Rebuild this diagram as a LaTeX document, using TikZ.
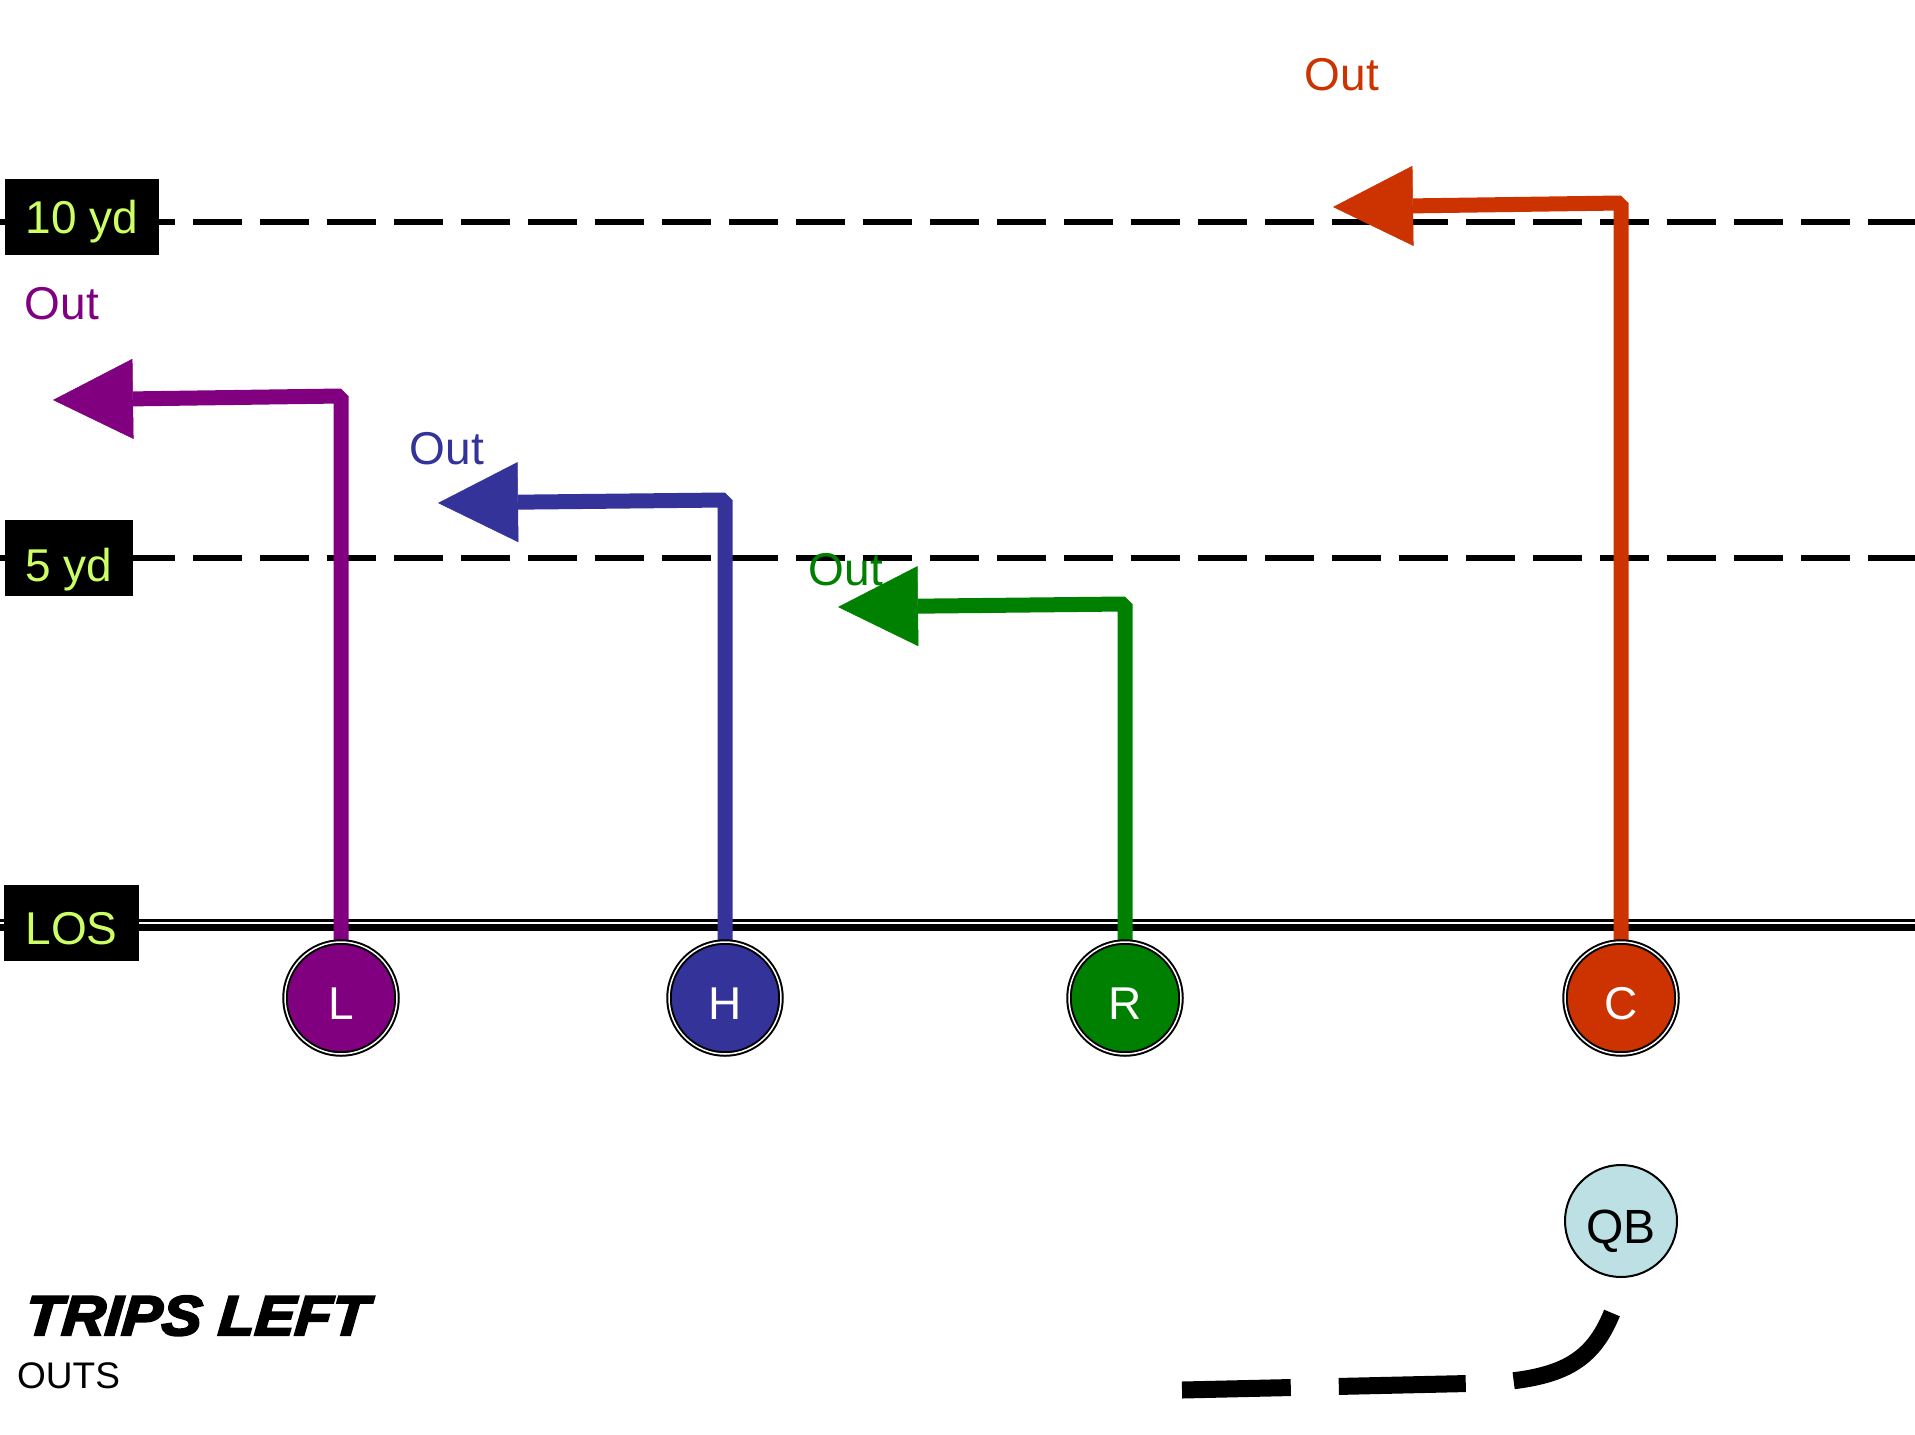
\documentclass[tikz,border=0pt]{standalone}
\usepackage{fontspec}
\setmainfont{Liberation Sans}
\newfontfamily\heavyfont[FakeBold=4,FakeStretch=1.07,FakeSlant=0.08]{Liberation Sans Bold Italic}
\usetikzlibrary{arrows.meta}
\pgfdeclarelayer{paper}
\pgfdeclarelayer{field}
\pgfdeclarelayer{routes}
\pgfsetlayers{paper,field,routes,main}
\definecolor{rtpurple}{HTML}{800080}
\definecolor{rtblue}{HTML}{333399}
\definecolor{rtgreen}{HTML}{008000}
\definecolor{rtorange}{HTML}{CC3300}
\definecolor{ydtext}{HTML}{CCFF66}
\definecolor{qbfill}{HTML}{BCE0E4}
\tikzset{
  yardline/.style={line width=6pt, dash pattern=on 49pt off 18pt, dash phase=8pt},
  yardbox/.style={fill=black, text=ydtext, minimum height=76pt, inner xsep=21pt, inner ysep=0pt,
    text height=33pt, text depth=0pt, font=\fontsize{46}{46}\selectfont},
  player/.style={circle, draw=black, line width=2pt, double=white, double distance=1.5pt,
    fill=#1, minimum size=112pt, inner sep=0pt, text=white, text height=43pt, text depth=0pt,
    font=\fontsize{46}{46}\selectfont},
  route/.style={draw=#1, line width=15pt, line join=bevel,
    -{Triangle[length=80pt,width=80pt,line width=0.5pt]}},
  routename/.style={text=#1, inner sep=0pt, font=\fontsize{46}{46}\selectfont},
}
\begin{document}
\begin{tikzpicture}[x=1pt,y=-1pt]
    \useasboundingbox (0,0) rectangle (1915,1435);
    \begin{pgfonlayer}{paper}
    \fill[white] (0,0) rectangle (1915,1435);
    \end{pgfonlayer}

    \node[yardbox] (tenyd) at (82,217) {10 yd};
    \node[yardbox, text height=47pt] (fiveyd) at (69,557.5) {5 yd};
    \node[yardbox, text height=43pt] (los) at (71.5,923) {LOS};

    \node[player=rtpurple] (L) at (341,998) {L};
    \node[player=rtblue] (H) at (725,998) {H};
    \node[player=rtgreen] (R) at (1125,998) {R};
    \node[player=rtorange] (C) at (1621,998) {C};

    \coordinate (Lcorner) at (341,396);
    \coordinate (Ltip) at (53,400);
    \coordinate (Hcorner) at (725,500);
    \coordinate (Htip) at (438,503);
    \coordinate (Rcorner) at (1125,604);
    \coordinate (Rtip) at (838,607);
    \coordinate (Ccorner) at (1621,203);
    \coordinate (Ctip) at (1333,207);

    \begin{pgfonlayer}{field}
    \draw[yardline] (0,221.5) -- (1915,221.5);
    \draw[yardline] (0,557.5) -- (1915,557.5);
    \draw[line width=2.5pt] (0,920.5) -- (1915,920.5);
    \draw[line width=7pt] (0,927.5) -- (1915,927.5);
    \end{pgfonlayer}

    \begin{pgfonlayer}{routes}
    \draw[route=rtpurple] (L.north) -- (Lcorner) -- (Ltip);
    \draw[route=rtblue] (H.north) -- (Hcorner) -- (Htip);
    \draw[route=rtgreen] (R.north) -- (Rcorner) -- (Rtip);
    \draw[route=rtorange] (C.north) -- (Ccorner) -- (Ctip);
    \end{pgfonlayer}

    \node[routename=rtpurple] (outL) at (62,304) {Out};
    \node[routename=rtblue] (outH) at (447,449) {Out};
    \node[routename=rtgreen] (outR) at (846,570) {Out};
    \node[routename=rtorange] (outC) at (1342,75) {Out};

    \node[circle, draw=black, line width=2pt, fill=qbfill, minimum size=112pt, inner sep=0pt,
      text height=44pt, text depth=0pt, font=\fontsize{48}{48}\selectfont] (QB) at (1621,1221) {QB};
    \coordinate (qbstart) at (1612,1313);
    \coordinate (qbend) at (1182,1390);
    \draw[line width=17pt, dash pattern=on 127pt off 48pt]
      (qbstart) .. controls (1592,1362) and (1562,1378) .. (1490,1383) -- (qbend);

    \node[anchor=base west, inner sep=0pt, font=\heavyfont\fontsize{56}{56}\selectfont] (title) at (24,1335) {TRIPS LEFT};
    \node[anchor=base west, inner sep=0pt, font=\fontsize{37}{37}\selectfont] (play) at (17,1388) {OUTS};
\end{tikzpicture}
\end{document}
